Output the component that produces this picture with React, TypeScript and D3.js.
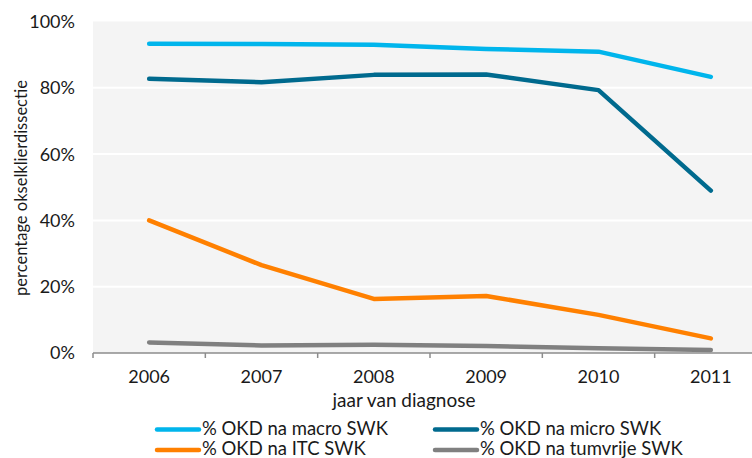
import React from "react";
import * as d3 from "d3";

const years = ["2006", "2007", "2008", "2009", "2010", "2011"];
const macro = [93.3, 93.2, 93.0, 91.7, 90.9, 83.3];
const micro = [82.7, 81.7, 83.9, 84.0, 79.3, 49.0];
const itc = [40.0, 26.5, 16.3, 17.2, 11.5, 4.4];
const tumvrije = [3.2, 2.3, 2.5, 2.1, 1.4, 0.9];
const yTicks = [0, 20, 40, 60, 80, 100];

const seriesNames = [
  "% OKD na macro SWK",
  "% OKD na micro SWK",
  "% OKD na ITC SWK",
  "% OKD na tumvrije SWK",
];
const seriesColors = ["#00B5EC", "#006A8E", "#FF8000", "#808080"];
const seriesData = [macro, micro, itc, tumvrije];

const W = 752;
const H = 458;
const plotLeft = 93;
const plotRight = 767;
const plotTop = 21.5;
const plotBottom = 353;
const font = "Lato, 'Open Sans', sans-serif";

export default function App() {
  const x = d3.scaleBand<string>().domain(years).range([plotLeft, plotRight]).padding(0);
  const y = d3.scaleLinear().domain([0, 100]).range([plotBottom, plotTop]);
  const line = d3
    .line<number>()
    .x((_, i) => (x(years[i]) as number) + x.bandwidth() / 2)
    .y((d) => y(d));

  const tickXs = years.map((yr) => x(yr) as number).concat([plotRight]);

  return (
    <svg
      width={W}
      height={H}
      style={{ position: "absolute", left: 0, top: 0, background: "#fff" }}
    >
      <rect x={plotLeft} y={plotTop} width={W - plotLeft} height={plotBottom - plotTop} fill="#F4F4F4" />
      {yTicks.filter((t) => t > 0 && t < 100).map((t) => (
        <line key={t} x1={plotLeft} x2={W} y1={y(t)} y2={y(t)} stroke="#fff" strokeWidth={2} />
      ))}
      <line x1={plotLeft} x2={W} y1={plotBottom} y2={plotBottom} stroke="#8C8C8C" strokeWidth={1.5} />
      {tickXs.map((tx, i) => (
        <line key={i} x1={tx} x2={tx} y1={plotBottom} y2={plotBottom + 5} stroke="#8C8C8C" strokeWidth={1.5} />
      ))}
      {yTicks.map((t) => (
        <text key={t} x={75} y={y(t)} dy="0.36em" textAnchor="end" fontFamily={font} fontSize={18} fill="#1a1a1a">
          {t}%
        </text>
      ))}
      {years.map((yr) => (
        <text
          key={yr}
          x={(x(yr) as number) + x.bandwidth() / 2}
          y={383}
          textAnchor="middle"
          fontFamily={font}
          fontSize={18}
          fill="#1a1a1a"
        >
          {yr}
        </text>
      ))}
      <text x={404} y={407} textAnchor="middle" fontFamily={font} fontSize={19} fill="#1a1a1a">
        jaar van diagnose
      </text>
      <text
        transform={`translate(27,188) rotate(-90)`}
        textAnchor="middle"
        fontFamily={font}
        fontSize={16.5}
        fill="#1a1a1a"
      >
        percentage okselklierdissectie
      </text>
      {seriesData.map((s, i) => (
        <path
          key={i}
          d={line(s) as string}
          fill="none"
          stroke={seriesColors[i]}
          strokeWidth={4.5}
          strokeLinecap="round"
          strokeLinejoin="round"
        />
      ))}
      {seriesNames.map((name, i) => {
        const col = i % 2;
        const row = Math.floor(i / 2);
        const lx = col === 0 ? 157 : 435;
        const ly = row === 0 ? 429.5 : 450;
        return (
          <g key={name}>
            <line x1={lx} x2={lx + 42} y1={ly} y2={ly} stroke={seriesColors[i]} strokeWidth={4.5} strokeLinecap="round" />
            <text x={lx + 45} y={ly + 5} fontFamily={font} fontSize={18.5} fill="#1a1a1a">
              {name}
            </text>
          </g>
        );
      })}
    </svg>
  );
}
